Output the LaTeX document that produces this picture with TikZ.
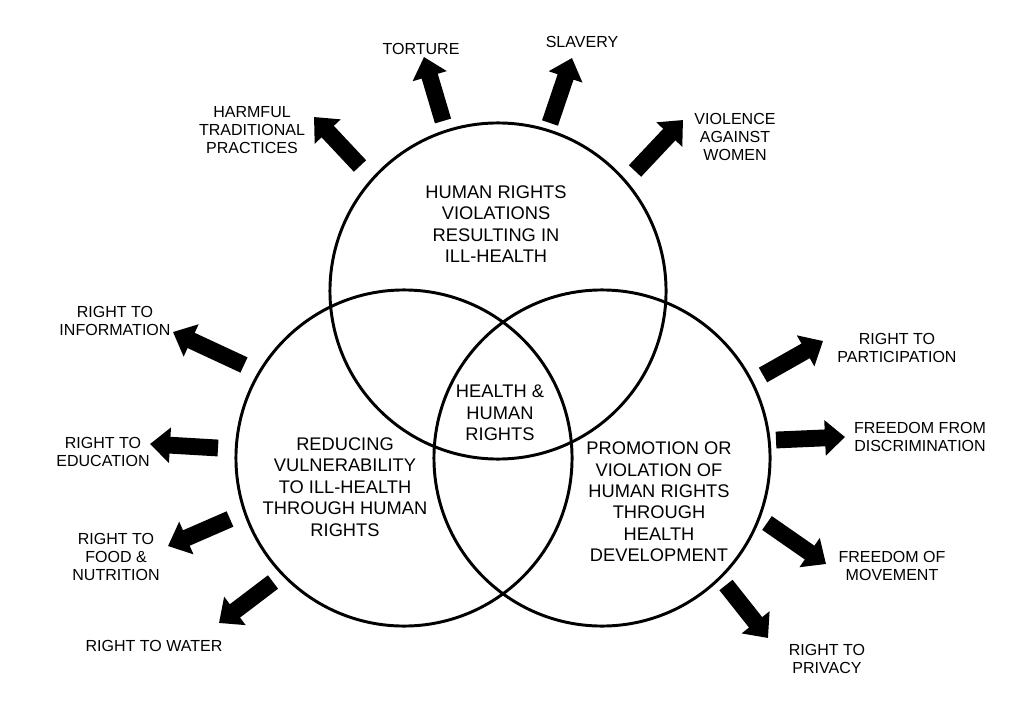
\documentclass[tikz,border=0pt]{standalone}
\usepackage{fontspec}
\setmainfont{Liberation Sans}
\usetikzlibrary{arrows.meta}
\tikzset{
  venn/.style={draw=black, line width=2.1pt, circle,
               minimum size=8.4cm, inner sep=0pt},
  ttl/.style={font=\fontsize{13}{15.2}\selectfont, align=center, inner sep=0pt},
  lbl/.style={font=\fontsize{11.4}{13}\selectfont, align=center, inner sep=0pt},
  blk/.style={line width=0.42cm, -{Triangle[length=0.5cm, width=0.86cm]}},
}

\begin{document}
\begin{tikzpicture}[x=0.025cm, y=-0.025cm]

\path[fill=white, use as bounding box] (0,0) rectangle (1024,702);

%% ============================================================
%% THE THREE CIRCLES
%% ============================================================
\node[venn] (cTop)   at (498, 291) {};
\node[venn] (cLeft)  at (404, 458) {};
\node[venn] (cRight) at (602, 458) {};

\node[ttl] (tTop) at (496, 224)
  {HUMAN RIGHTS\\VIOLATIONS\\RESULTING IN\\ILL-HEALTH};
\node[ttl] (tMid) at (500, 413) {HEALTH \&\\HUMAN\\RIGHTS};
\node[ttl] (tLeft) at (345, 487)
  {REDUCING\\VULNERABILITY\\TO ILL-HEALTH\\THROUGH HUMAN\\RIGHTS};
\node[ttl] (tRight) at (659, 502)
  {PROMOTION OR\\VIOLATION OF\\HUMAN RIGHTS\\THROUGH\\HEALTH\\DEVELOPMENT};

%% ============================================================
%% TOP: VIOLATIONS
%% ============================================================
\node[lbl] (lHarm) at (252, 130) {HARMFUL\\TRADITIONAL\\PRACTICES};
\node[lbl] (lTort) at (421, 49)  {TORTURE};
\node[lbl] (lSlav) at (582, 42)  {SLAVERY};
\node[lbl] (lViol) at (735, 137) {VIOLENCE\\AGAINST\\WOMEN};

\coordinate (aHarm) at (360, 166);  \coordinate (bHarm) at (314, 117);
\coordinate (aTort) at (443, 121);  \coordinate (bTort) at (424, 57);
\coordinate (aSlav) at (550, 123);  \coordinate (bSlav) at (572, 58);
\coordinate (aViol) at (635, 171);  \coordinate (bViol) at (683, 120);

\draw[blk] (aHarm) -- (bHarm);
\draw[blk] (aTort) -- (bTort);
\draw[blk] (aSlav) -- (bSlav);
\draw[blk] (aViol) -- (bViol);

%% ============================================================
%% LEFT: REDUCING VULNERABILITY
%% ============================================================
\node[lbl] (lInfo) at (115, 321) {RIGHT TO\\INFORMATION};
\node[lbl] (lEduc) at (103, 452) {RIGHT TO\\EDUCATION};
\node[lbl] (lFood) at (116, 557) {RIGHT TO\\FOOD \&\\NUTRITION};
\node[lbl] (lWatr) at (154, 646) {RIGHT TO WATER};

\coordinate (aInfo) at (244, 365);  \coordinate (bInfo) at (173, 332);
\coordinate (aEduc) at (218, 448);  \coordinate (bEduc) at (150, 444);
\coordinate (aFood) at (230, 519);  \coordinate (bFood) at (168, 546);
\coordinate (aWatr) at (273, 582);  \coordinate (bWatr) at (219, 623);

\draw[blk] (aInfo) -- (bInfo);
\draw[blk] (aEduc) -- (bEduc);
\draw[blk] (aFood) -- (bFood);
\draw[blk] (aWatr) -- (bWatr);

%% ============================================================
%% RIGHT: PROMOTION OR VIOLATION
%% ============================================================
\node[lbl] (lPart) at (897, 348) {RIGHT TO\\PARTICIPATION};
\node[lbl] (lDisc) at (920, 437) {FREEDOM FROM\\DISCRIMINATION};
\node[lbl] (lMove) at (892, 566) {FREEDOM OF\\MOVEMENT};
\node[lbl] (lPriv) at (827, 659) {RIGHT TO\\PRIVACY};

\coordinate (aPart) at (763, 375);  \coordinate (bPart) at (823, 341);
\coordinate (aDisc) at (776, 440);  \coordinate (bDisc) at (845, 437);
\coordinate (aMove) at (767, 523);  \coordinate (bMove) at (826, 564);
\coordinate (aPriv) at (726, 585);  \coordinate (bPriv) at (768, 638);

\draw[blk] (aPart) -- (bPart);
\draw[blk] (aDisc) -- (bDisc);
\draw[blk] (aMove) -- (bMove);
\draw[blk] (aPriv) -- (bPriv);

\end{tikzpicture}
\end{document}
